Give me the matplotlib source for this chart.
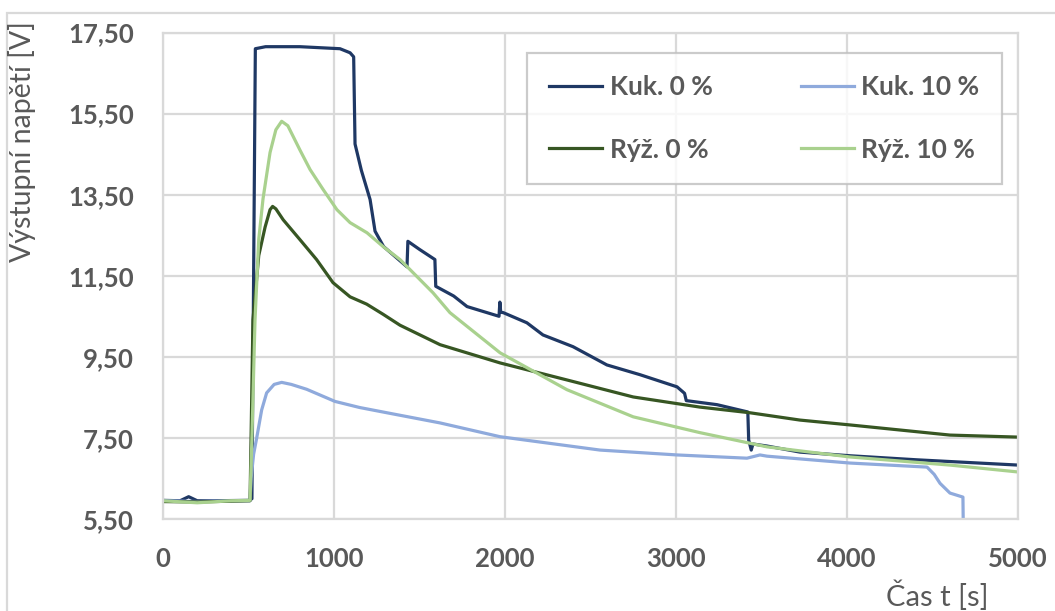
import matplotlib.pyplot as plt
from matplotlib.patches import Rectangle

# --------------------------
# Data
# --------------------------

kuk0_t = [0, 100, 150, 200, 300, 500, 520, 540, 600, 800, 1035, 1094, 1115, 1123,
          1160, 1211, 1240, 1290, 1427, 1432, 1500, 1590, 1595, 1700, 1778, 1965,
          1970, 1975, 1990, 2128, 2222, 2398, 2596, 2789, 3006, 3050, 3060, 3240,
          3420, 3425, 3440, 3450, 3532, 3725, 4018, 4409, 5000]
kuk0_v = [5.96, 5.95, 6.05, 5.95, 5.95, 5.96, 6.0, 17.1, 17.15, 17.15, 17.1, 17.0, 16.9, 14.75,
          14.1, 13.38, 12.6, 12.22, 11.72, 12.35, 12.15, 11.9, 11.24, 11.0, 10.74, 10.5,
          10.85, 10.6, 10.59, 10.34, 10.04, 9.75, 9.3, 9.06, 8.76, 8.6, 8.42, 8.32,
          8.14, 7.45, 7.2, 7.35, 7.3, 7.15, 7.06, 6.96, 6.83]

kuk10_t = [0, 200, 400, 509, 515, 530, 548, 577, 606, 650, 694, 750, 840, 1006, 1150,
           1310, 1620, 1971, 2556, 3006, 3415, 3491, 3532, 4018, 4468, 4510, 4544,
           4602, 4678, 4680]
kuk10_v = [5.95, 5.93, 5.95, 5.95, 6.5, 7.1, 7.5, 8.19, 8.61, 8.82, 8.87, 8.82, 8.7, 8.4, 8.25,
           8.12, 7.87, 7.53, 7.2, 7.08, 7.0, 7.08, 7.05, 6.88, 6.78, 6.6, 6.38,
           6.14, 6.04, 5.3]

ryz0_t = [0, 200, 400, 509, 515, 526, 560, 597, 626, 641, 660, 703, 801, 898, 994,
          1094, 1191, 1287, 1386, 1620, 1971, 2362, 2750, 3140, 3433, 3725, 4018,
          4602, 5000]
ryz0_v = [5.93, 5.92, 5.94, 5.95, 7.5, 10.41, 12.0, 12.7, 13.13, 13.21, 13.15, 12.88, 12.39,
          11.9, 11.33, 10.98, 10.8, 10.55, 10.28, 9.8, 9.35, 8.93, 8.51, 8.26, 8.12,
          7.94, 7.82, 7.57, 7.52]

ryz10_t = [0, 200, 400, 509, 520, 538, 560, 585, 626, 660, 694, 730, 801, 860, 936,
           1017, 1094, 1193, 1287, 1386, 1485, 1579, 1678, 1971, 2362, 2750, 3140,
           3532, 4018, 4602, 5000]
ryz10_v = [5.95, 5.9, 5.95, 5.96, 7.5, 10.4, 12.4, 13.4, 14.54, 15.1, 15.31, 15.2, 14.6,
           14.12, 13.63, 13.13, 12.81, 12.56, 12.22, 11.9, 11.48, 11.08, 10.59, 9.6,
           8.69, 8.02, 7.63, 7.28, 7.03, 6.83, 6.66]

series = [
    ("Kuk. 0 %", kuk0_t, kuk0_v, "#1F3864"),
    ("Kuk. 10 %", kuk10_t, kuk10_v, "#8FAADC"),
    ("Rýž. 0 %", ryz0_t, ryz0_v, "#375623"),
    ("Rýž. 10 %", ryz10_t, ryz10_v, "#A9D18E"),
]

y_ticks = [5.5, 7.5, 9.5, 11.5, 13.5, 15.5, 17.5]
x_ticks = [0, 1000, 2000, 3000, 4000, 5000]

# --------------------------
# Figure
# --------------------------

plt.rcParams["font.family"] = ["Lato", "DejaVu Sans"]
grey = "#595959"
grid = "#D9D9D9"

fig = plt.figure(figsize=(10.55, 6.11), dpi=100)
ax = fig.add_axes([163 / 1055, 1 - 519 / 611, 855 / 1055, 486.5 / 611])

# chart area border
fig.patches.append(Rectangle((7 / 1055, -0.1), 1.1, 1 - 13 / 611 + 0.1,
                             transform=fig.transFigure, fill=False,
                             edgecolor=grid, linewidth=1.6))

lines = {}
for name, t, v, c in series:
    lines[name], = ax.plot(t, v, color=c, linewidth=2.3, label=name,
                           solid_joinstyle="round")

ax.set_xlim(0, 5000)
ax.set_ylim(5.5, 17.5)
ax.set_xticks(x_ticks)
ax.set_yticks(y_ticks)
ax.set_yticklabels([f"{y:.2f}".replace(".", ",") for y in y_ticks])
ax.grid(True, color=grid, linewidth=1.6)
ax.set_axisbelow(True)
for s in ax.spines.values():
    s.set_color(grid)
    s.set_linewidth(1.6)

ax.tick_params(length=0, labelsize=18.5, labelcolor=grey)
ax.tick_params(axis="y", pad=21)
ax.tick_params(axis="x", pad=20)
for lab in ax.get_xticklabels() + ax.get_yticklabels():
    lab.set_fontweight("bold")

fig.text(22 / 1055, 1 - 142 / 611, "Výstupní napětí [V]", rotation=90,
         ha="center", va="center", fontsize=20.5, color=grey)
fig.text(937 / 1055, 1 - 596 / 611, "Čas t [s]", ha="center", va="center",
         fontsize=21, color=grey)

# legend filled column-wise, so order gives rows Kuk / Rýž
order = ["Kuk. 0 %", "Rýž. 0 %", "Kuk. 10 %", "Rýž. 10 %"]
leg = ax.legend([lines[n] for n in order], order, ncol=2, loc="lower left",
                mode="expand",
                bbox_to_anchor=((527 - 163) / 855, (519 - 184) / 486.5,
                                475 / 855, 132 / 486.5),
                fontsize=19, frameon=True, fancybox=False, handlelength=2.0,
                handletextpad=0.3, labelspacing=1.45, borderpad=0.85,
                borderaxespad=0, columnspacing=2.0)
leg.get_frame().set_edgecolor("#BFBFBF")
leg.get_frame().set_linewidth(1.6)
for txt in leg.get_texts():
    txt.set_color(grey)
    txt.set_fontweight("bold")

plt.savefig("out.png", dpi=100)
plt.close()
